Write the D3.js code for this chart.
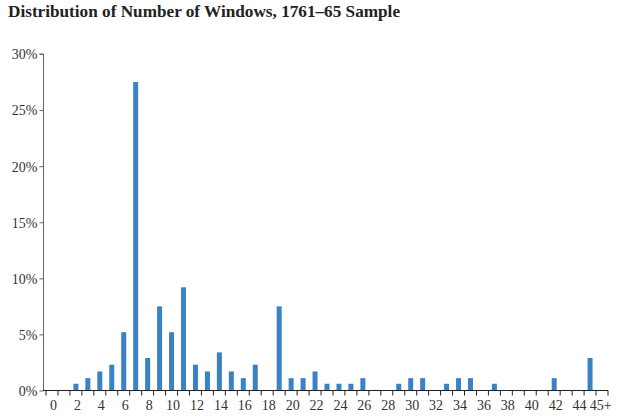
<!DOCTYPE html>
<html><head><meta charset="utf-8">
<script src="https://cdn.jsdelivr.net/npm/d3@7"></script>
<style>body{margin:0;background:#fff}svg{display:block}</style>
</head><body><svg id="c" width="620" height="419"></svg>
<script>
const categories = ["0","1","2","3","4","5","6","7","8","9","10","11","12","13","14","15","16","17","18","19","20","21","22","23","24","25","26","27","28","29","30","31","32","33","34","35","36","37","38","39","40","41","42","43","44","45+"];
const values = [0,0,0.6,1.1,1.7,2.3,5.2,27.5,2.9,7.5,5.2,9.2,2.3,1.7,3.4,1.7,1.1,2.3,0,7.5,1.1,1.1,1.7,0.6,0.6,0.6,1.1,0,0,0.6,1.1,1.1,0,0.6,1.1,1.1,0,0.6,0,0,0,0,1.1,0,0,2.9];
const yTicks = [0,5,10,15,20,25,30];
const xLabels = ["0","2","4","6","8","10","12","14","16","18","20","22","24","26","28","30","32","34","36","38","40","42","44","45+"];

const svg = d3.select("#c");
const font = "'Liberation Serif', 'DejaVu Serif', serif";
const step = (608 - 46) / (categories.length + 1);
const x = d3.scaleBand().domain(categories).range([46, 46 + step * categories.length]).paddingInner(0).paddingOuter(0);
const y = d3.scaleLinear().domain([0, 30]).range([390.5, 54]);

svg.append("text").attr("x", 8).attr("y", 17).attr("font-family", font)
  .attr("font-weight", "bold").attr("font-size", 17.2).attr("fill", "#222")
  .text("Distribution of Number of Windows, 1761–65 Sample");

// bars
const bw = 5;
svg.append("g").selectAll("rect").data(values.map((v,i)=>({c:categories[i],v})).filter(d=>d.v>0))
  .join("rect")
  .attr("x", d => x(d.c) + x.bandwidth()/2 - bw/2)
  .attr("width", bw)
  .attr("y", d => y(d.v))
  .attr("height", d => y(0) - y(d.v))
  .attr("fill", "#3b82c4");

// y axis
const ya = svg.append("g").attr("transform", "translate(43.5,0)")
  .call(d3.axisLeft(y).tickValues(yTicks).tickSize(4).tickFormat(d => d + "%"));
ya.select(".domain").attr("stroke", "#666").attr("d", `M-4,${y(30)}H0V${y(0)}`);
ya.selectAll(".tick line").attr("stroke", "#666");
ya.selectAll("text").attr("font-family", font).attr("font-size", 14).attr("fill", "#333").attr("x", -6).attr("dy", "0.35em");

// x axis
const xg = svg.append("g").attr("transform", `translate(0,${y(0)})`);
xg.append("line").attr("x1", 43).attr("x2", 608).attr("stroke", "#222");
const boundaries = categories.map(c => x(c)).concat([x.range()[1], 608]);
xg.selectAll("line.t").data(boundaries).join("line").attr("class","t")
  .attr("x1", d=>d).attr("x2", d=>d).attr("y1", 0).attr("y2", 5).attr("stroke", "#222");
xg.selectAll("text").data(xLabels).join("text")
  .attr("x", d => d === "45+" ? x(d) + step * 1.4 : x(d) + x.bandwidth()/2 + 1.5)
  .attr("y", 19.5).attr("text-anchor", "middle")
  .attr("font-family", font).attr("font-size", 14).attr("fill", "#333")
  .text(d => d);
</script></body></html>
